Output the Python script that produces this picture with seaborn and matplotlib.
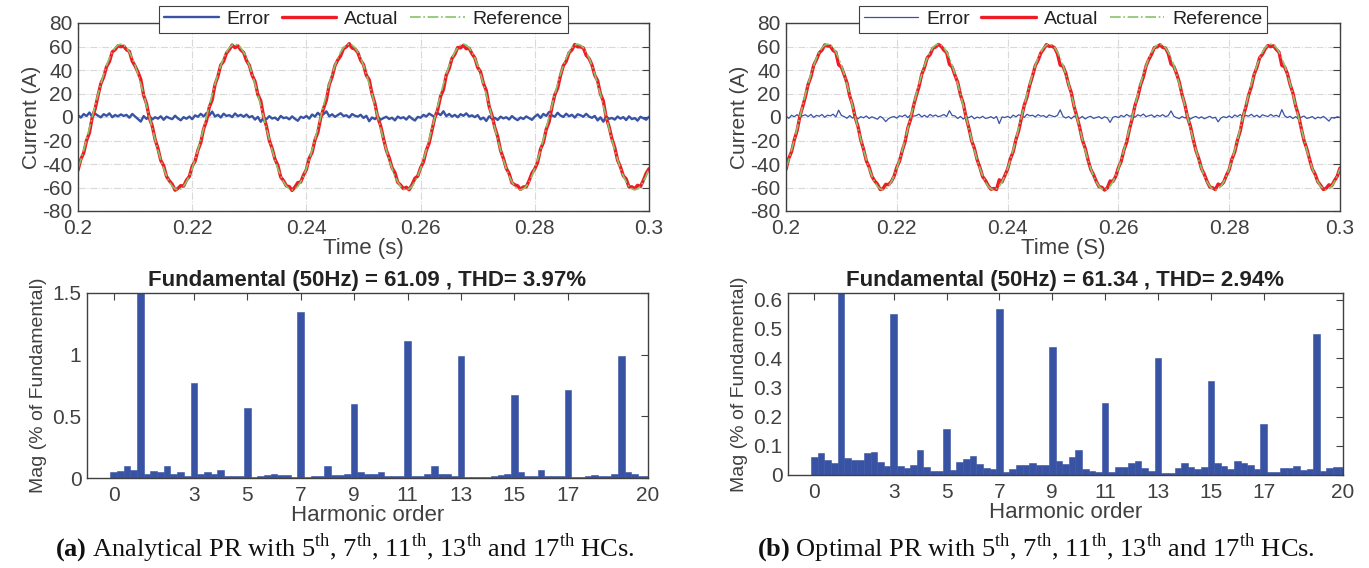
import numpy as np
import matplotlib
matplotlib.use("Agg")
import matplotlib.pyplot as plt
import seaborn as sns

# time axis of the current plots (0.5 ms samples)
t_start, t_stop, n_samples = 0.2, 0.3, 201
time = np.linspace(t_start, t_stop, n_samples)

# reference current (same in both cases)
reference = [
    -43.8, -36.4, -28.1, -19.2, -9.7, 0.0, 9.7, 19.2, 28.1, 36.4, 43.8, 50.2, 55.2, 59.0, 61.2, 62.0, 61.2, 59.0, 55.2, 50.2,
    43.8, 36.4, 28.1, 19.2, 9.7, 0.0, -9.7, -19.2, -28.1, -36.4, -43.8, -50.2, -55.2, -59.0, -61.2, -62.0, -61.2, -59.0, -55.2, -50.2,
    -43.8, -36.4, -28.1, -19.2, -9.7, 0.0, 9.7, 19.2, 28.1, 36.4, 43.8, 50.2, 55.2, 59.0, 61.2, 62.0, 61.2, 59.0, 55.2, 50.2,
    43.8, 36.4, 28.1, 19.2, 9.7, 0.0, -9.7, -19.2, -28.1, -36.4, -43.8, -50.2, -55.2, -59.0, -61.2, -62.0, -61.2, -59.0, -55.2, -50.2,
    -43.8, -36.4, -28.1, -19.2, -9.7, 0.0, 9.7, 19.2, 28.1, 36.4, 43.8, 50.2, 55.2, 59.0, 61.2, 62.0, 61.2, 59.0, 55.2, 50.2,
    43.8, 36.4, 28.1, 19.2, 9.7, 0.0, -9.7, -19.2, -28.1, -36.4, -43.8, -50.2, -55.2, -59.0, -61.2, -62.0, -61.2, -59.0, -55.2, -50.2,
    -43.8, -36.4, -28.1, -19.2, -9.7, 0.0, 9.7, 19.2, 28.1, 36.4, 43.8, 50.2, 55.2, 59.0, 61.2, 62.0, 61.2, 59.0, 55.2, 50.2,
    43.8, 36.4, 28.1, 19.2, 9.7, 0.0, -9.7, -19.2, -28.1, -36.4, -43.8, -50.2, -55.2, -59.0, -61.2, -62.0, -61.2, -59.0, -55.2, -50.2,
    -43.8, -36.4, -28.1, -19.2, -9.7, 0.0, 9.7, 19.2, 28.1, 36.4, 43.8, 50.2, 55.2, 59.0, 61.2, 62.0, 61.2, 59.0, 55.2, 50.2,
    43.8, 36.4, 28.1, 19.2, 9.7, 0.0, -9.7, -19.2, -28.1, -36.4, -43.8, -50.2, -55.2, -59.0, -61.2, -62.0, -61.2, -59.0, -55.2, -50.2,
    -43.8,
]

# tracking error, (a) analytical PR
error_a = [
    1.5, -0.5, 2.5, 0.8, 3.8, 0.2, 2.9, 1.1, -0.3, 2.4, 1.0, 3.1, -0.2, 1.7, 0.6, 2.2, 0.9, 1.8, -0.6, 2.6,
    0.4, -1.8, -3.9, 0.8, -1.6, 0.9, -2.1, -0.2, -1.4, 0.6, -2.4, 0.3, -0.9, -1.8, 1.1, -1.2, -2.8, -0.1, -1.5, 0.4,
    -1.9, 1.4, 0.2, 2.7, 0.5, 3.3, 1.2, 4.6, 0.4, 1.9, -0.4, 2.8, 0.9, 1.6, -0.1, 3.0, 0.7, 1.9, 0.2, 2.1,
    -0.3, 0.8, -2.2, 0.1, -4.1, -0.6, -1.9, 0.7, -1.3, -0.5, -2.6, 0.9, -1.0, -0.3, -2.0, 0.5, -1.6, -3.2, 0.2, -0.8,
    0.9, -1.4, 2.1, 0.3, 3.6, 1.0, 2.4, 4.8, 0.6, 2.3, 0.1, 1.7, 3.2, 0.8, 1.5, -0.4, 2.5, 1.1, 0.3, 1.9,
    -0.8, 1.0, -3.6, -0.4, -1.8, 0.6, -2.3, -0.9, 0.2, -1.7, -0.6, -2.9, 0.4, -1.1, -0.2, -2.2, 0.7, -1.4, -3.0, 0.1,
    -0.6, 1.8, 0.4, 2.9, 1.3, 0.2, 3.4, 1.6, 4.9, 0.7, 2.6, 0.3, 1.8, -0.2, 2.4, 1.0, 3.1, 0.5, 1.4, -0.1,
    1.6, -2.0, -0.5, -3.4, 0.6, -1.5, -0.7, -2.5, 0.3, -1.2, -0.2, -2.1, 0.8, -1.3, -2.7, -0.4, -1.7, 0.5, -1.0, -2.4,
    0.3, 2.2, -0.8, 2.6, 0.9, 4.2, 1.4, 0.3, 3.6, 1.2, 0.1, 2.8, 0.6, 1.9, -0.5, 2.3, 1.5, 0.2, 2.7, 0.4,
    -0.7, 0.9, -2.9, -0.3, -4.0, 0.5, -1.6, -0.8, -2.2, 0.4, -1.4, -0.1, -2.6, 0.6, -1.8, -0.9, -3.1, 0.2, -1.1, -2.3,
    0.2,
]

# tracking error, (b) optimal PR
error_b = [
    0.8, -1.2, 1.5, 0.2, 2.0, -0.4, 1.1, 1.9, 0.3, 2.2, -0.3, 1.4, 0.6, 2.1, -0.2, 1.6, 0.9, 2.4, 0.1, 5.8,
    1.3, 0.4, -1.1, 1.2, -0.9, 0.6, -1.6, 0.3, -0.7, 0.9, -1.3, 0.2, -0.8, -1.9, 0.5, -1.0, -3.9, -1.4, -0.2, 0.4,
    -1.0, 1.1, 0.3, 1.8, -0.5, 2.0, 0.7, 1.2, 2.4, 0.1, 1.5, -0.2, 2.2, 0.6, 1.7, 0.2, 1.0, 2.1, 0.4, 5.4,
    1.3, 0.9, -1.3, 0.5, -1.8, 0.2, -0.6, 0.8, -1.5, -0.1, -0.9, 0.6, -1.2, -0.7, 0.3, -1.2, 0.5, -5.6, 0.1, -0.5,
    0.5, -0.8, 1.6, 0.2, 1.9, 0.8, -0.3, 2.3, 1.0, 1.5, 0.1, 2.0, 0.7, 1.2, -0.4, 1.8, 0.9, 0.2, 1.4, 6.1,
    0.6, -0.9, 0.4, -1.5, 0.8, -0.4, -1.1, 0.5, -1.7, -0.2, 0.6, -1.2, -0.5, 0.3, -1.4, 0.2, -0.8, -4.6, -0.3, 0.5,
    -0.6, 1.4, 0.1, 2.2, 0.6, 1.3, -0.2, 1.9, 0.8, 2.5, 0.3, 1.1, 1.8, -0.1, 1.6, 0.5, 2.0, 0.3, 1.2, 5.2,
    0.7, -0.6, -1.4, 0.4, -0.9, 0.7, -1.8, -0.3, 0.5, -1.1, 0.2, -1.5, -0.4, 0.6, -1.0, -0.2, -4.1, -0.9, 0.3, -0.6,
    0.9, -0.7, 1.7, 0.4, 2.1, -0.2, 1.3, 0.7, 2.3, 0.2, 1.6, -0.3, 1.9, 1.0, 0.4, 2.2, 0.6, 1.5, 0.1, 6.3,
    1.1, -0.5, 0.6, -1.3, 0.3, -1.7, -0.2, 0.8, -1.2, -0.6, 0.4, -1.6, -0.1, -0.9, 0.5, -1.3, -3.5, -0.4, -1.0, 0.2,
    -0.4,
]

# FFT spectrum, harmonic order 0..20 in steps of 0.25 (fundamental = 100 %, clipped)
harmonic_order = np.arange(0, 20.25, 0.25)
mag_a = [
    0.05, 0.055, 0.095, 0.065, 100, 0.035, 0.055, 0.05, 0.095, 0.03, 0.05, 0.02,
    0.77, 0.03, 0.05, 0.035, 0.065, 0.015, 0.015, 0.015, 0.565, 0.005, 0.02, 0.025,
    0.03, 0.027, 0.027, 0.008, 1.35, 0.008, 0.015, 0.015, 0.095, 0.022, 0.027, 0.03,
    0.60, 0.05, 0.03, 0.035, 0.045, 0.015, 0.015, 0.015, 1.11, 0.013, 0.015, 0.035,
    0.10, 0.03, 0.03, 0.02, 0.99, 0.005, 0.005, 0.005, 0.006, 0.015, 0.025, 0.035,
    0.67, 0.045, 0.02, 0.02, 0.062, 0.015, 0.015, 0.015, 0.71, 0.01, 0.01, 0.02,
    0.027, 0.02, 0.015, 0.035, 0.99, 0.045, 0.03, 0.015, 0.015,
]
mag_b = [
    0.063, 0.075, 0.052, 0.042, 100, 0.059, 0.052, 0.052, 0.075, 0.08, 0.046, 0.032,
    0.55, 0.03, 0.025, 0.035, 0.087, 0.028, 0.012, 0.014, 0.158, 0.018, 0.045, 0.056,
    0.065, 0.038, 0.025, 0.022, 0.567, 0.009, 0.019, 0.034, 0.034, 0.041, 0.034, 0.034,
    0.437, 0.048, 0.039, 0.06, 0.085, 0.02, 0.014, 0.009, 0.246, 0.009, 0.027, 0.027,
    0.041, 0.048, 0.025, 0.014, 0.40, 0.006, 0.008, 0.025, 0.041, 0.027, 0.02, 0.027,
    0.321, 0.041, 0.031, 0.02, 0.048, 0.041, 0.034, 0.02, 0.174, 0.009, 0.009, 0.025,
    0.023, 0.031, 0.017, 0.02, 0.482, 0.014, 0.025, 0.027, 0.027,
]

time_ticks = [0.2, 0.22, 0.24, 0.26, 0.28, 0.3]
time_labels = ["0.2", "0.22", "0.24", "0.26", "0.28", "0.3"]
current_ticks = [-80, -60, -40, -20, 0, 20, 40, 60, 80]
order_ticks = [0, 3, 5, 7, 9, 11, 13, 15, 17, 20]
mag_ticks_a = [0, 0.5, 1, 1.5]
mag_labels_a = ["0", "0.5", "1", "1.5"]
mag_ticks_b = [0, 0.1, 0.2, 0.3, 0.4, 0.5, 0.6]
mag_labels_b = ["0", "0.1", "0.2", "0.3", "0.4", "0.5", "0.6"]

titles = ["Fundamental (50Hz) = 61.09 , THD= 3.97%",
          "Fundamental (50Hz) = 61.34 , THD= 2.94%"]
time_xlabels = ["Time (s)", "Time (S)"]
captions = [r"$\mathbf{(a)}$ Analytical PR with 5$^{\mathrm{th}}$, 7$^{\mathrm{th}}$, 11$^{\mathrm{th}}$, 13$^{\mathrm{th}}$ and 17$^{\mathrm{th}}$ HCs.",
            r"$\mathbf{(b)}$ Optimal PR with 5$^{\mathrm{th}}$, 7$^{\mathrm{th}}$, 11$^{\mathrm{th}}$, 13$^{\mathrm{th}}$ and 17$^{\mathrm{th}}$ HCs."]

blue = "#3953a4"
red = "#ee1c25"
green = "#86c46a"
gray = "#404040"

sns.set_theme(style="white")
plt.rcParams["font.family"] = ["Liberation Sans", "DejaVu Sans"]
plt.rcParams["axes.unicode_minus"] = False
plt.rcParams["mathtext.fontset"] = "custom"
plt.rcParams["mathtext.rm"] = "Liberation Serif"
plt.rcParams["mathtext.bf"] = "Liberation Serif:bold"

W, H = 1369, 568
fig = plt.figure(figsize=(W / 100, H / 100), dpi=100)


def box(l, t, r, b):
    return [l / W, 1 - b / H, (r - l) / W, (b - t) / H]


def style_axes(ax):
    for s in ax.spines.values():
        s.set_color(gray)
        s.set_linewidth(1.0)
    ax.tick_params(direction="in", length=5, width=0.8, color=gray, labelcolor=gray,
                   labelsize=15, top=True, right=True, pad=4)
    ax.tick_params(axis="x", pad=6)


time_boxes = [box(78, 23, 649, 211), box(786, 23, 1340, 211)]
bar_boxes = [box(87, 293, 648, 478), box(788, 293, 1343, 475)]
errors = [error_a, error_b]
error_lw = [1.7, 0.9]
mags = [mag_a, mag_b]
mag_ticks = [mag_ticks_a, mag_ticks_b]
mag_labels = [mag_labels_a, mag_labels_b]
mag_tops = [1.5, 0.623]
caption_x = [0.252, 0.757]

for i in range(2):
    # current waveforms
    ax = fig.add_axes(time_boxes[i])
    err = np.array(errors[i])
    ref = np.array(reference)
    actual = ref - err  # error = reference - actual
    sns.lineplot(x=time, y=err, ax=ax, color=blue, lw=error_lw[i], label="Error", estimator=None)
    sns.lineplot(x=time, y=actual, ax=ax, color=red, lw=2.4, label="Actual", estimator=None)
    sns.lineplot(x=time, y=ref, ax=ax, color=green, lw=1.2, linestyle="-.", label="Reference", estimator=None)
    ax.set_xlim(t_start, t_stop)
    ax.set_ylim(-80, 80)
    ax.set_xticks(time_ticks)
    ax.set_xticklabels(time_labels)
    ax.set_yticks(current_ticks)
    ax.grid(True, color="#d9d9d9", linestyle="-.", linewidth=0.8)
    style_axes(ax)
    ax.set_xlabel(time_xlabels[i], fontsize=16, color=gray, labelpad=0)
    ax.set_ylabel("Current (A)", fontsize=15, color=gray, labelpad=1)
    leg = ax.legend(loc="center", bbox_to_anchor=(0.5, 1.02), ncol=3, frameon=True, fancybox=False,
                    framealpha=1, edgecolor=gray, fontsize=14, handlelength=2.8, columnspacing=0.6,
                    handletextpad=0.4, borderpad=0.25)
    leg.get_frame().set_linewidth(0.8)
    for txt in leg.get_texts():
        txt.set_color("#222222")

    # harmonic spectrum
    ax = fig.add_axes(bar_boxes[i])
    sns.barplot(x=harmonic_order, y=mags[i], native_scale=True, width=1.0, color=blue,
                saturation=1, edgecolor=blue, linewidth=0.4, errorbar=None, ax=ax)
    ax.set_xlim(-1, 20)
    ax.set_ylim(0, mag_tops[i])
    ax.set_xticks(order_ticks)
    ax.set_xticklabels([str(v) for v in order_ticks])
    ax.set_yticks(mag_ticks[i])
    ax.set_yticklabels(mag_labels[i])
    style_axes(ax)
    ax.set_title(titles[i], fontsize=16, fontweight="bold", color="#222222", pad=5)
    ax.set_xlabel("Harmonic order", fontsize=16, color=gray, labelpad=0)
    ax.set_ylabel("Mag (% of Fundamental)", fontsize=14, color=gray, labelpad=4)

    fig.text(caption_x[i], 0.035, captions[i], ha="center", va="center", fontsize=19,
             family="Liberation Serif", color="#111111")

fig.savefig("out.png", dpi=100)
